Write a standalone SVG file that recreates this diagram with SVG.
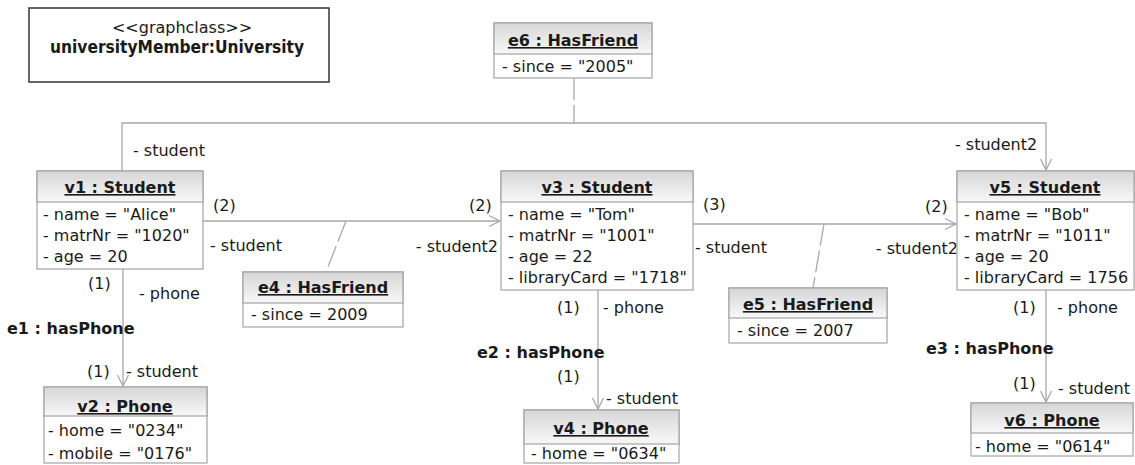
<svg xmlns="http://www.w3.org/2000/svg" width="1135" height="465" viewBox="0 0 1135 465">
<defs>
<linearGradient id="hdr" x1="0" y1="0" x2="0" y2="1">
<stop offset="0" stop-color="#d6d6d6"/>
<stop offset="1" stop-color="#f8f8f8"/>
</linearGradient>
<marker id="arr" markerUnits="userSpaceOnUse" markerWidth="14" markerHeight="14" viewBox="0 0 14 14" refX="12" refY="7" orient="auto">
<path d="M1,1.5 L12,7 L1,12.5" fill="none" stroke="#a8a8a8" stroke-width="1.3"/>
</marker>
<style>
text{font-family:"DejaVu Sans","Liberation Sans",sans-serif;font-size:16px;fill:#1a1a1a}
.b{font-weight:bold}
.t{font-weight:bold;text-decoration:underline;text-anchor:middle}
.m{text-anchor:middle}
.e{text-anchor:end}
.box{fill:#fff;stroke:#a4a4a4;stroke-width:1.2}
.hd{fill:url(#hdr);stroke:#a4a4a4;stroke-width:1.2}
.ln{fill:none;stroke:#a8a8a8;stroke-width:1.3}
.ds{fill:none;stroke:#a8a8a8;stroke-width:1.3;stroke-dasharray:22,5}
</style>
</defs>
<rect width="1135" height="465" fill="#fff"/>

<g id="graphclass">
<rect x="29" y="8" width="300" height="74" fill="#fff" stroke="#333" stroke-width="1.5"/>
<text x="182" y="33" class="m">&lt;&lt;graphclass&gt;&gt;</text>
<text x="177" y="53" class="m b" style="font-size:17px" textLength="254" lengthAdjust="spacingAndGlyphs">universityMember:University</text>
</g>

<g id="connectors">
<path class="ln" d="M122,171 V123 H1046 V170" marker-end="url(#arr)"/>
<path class="ln" d="M203,221 H500" marker-end="url(#arr)"/>
<path class="ln" d="M693,224 H956" marker-end="url(#arr)"/>
<path class="ln" d="M123,269 V386" marker-end="url(#arr)"/>
<path class="ln" d="M598,290 V409" marker-end="url(#arr)"/>
<path class="ln" d="M1046,290 V402" marker-end="url(#arr)"/>
<path class="ds" d="M574,78 V123"/>
<path class="ds" d="M346,221 L326,272"/>
<path class="ds" d="M824,224 L813,288"/>
<text x="133" y="156">- student</text>
<text x="955" y="150">- student2</text>
<text x="213" y="211">(2)</text>
<text x="210" y="251">- student</text>
<text x="469" y="211">(2)</text>
<text x="498" y="252" class="e">- student2</text>
<text x="703" y="210">(3)</text>
<text x="695" y="253">- student</text>
<text x="925" y="212">(2)</text>
<text x="958" y="254" class="e">- student2</text>
<text x="88" y="289">(1)</text>
<text x="139" y="299">- phone</text>
<text x="7" y="334" class="b">e1 : hasPhone</text>
<text x="87" y="377">(1)</text>
<text x="126" y="377">- student</text>
<text x="557" y="313">(1)</text>
<text x="603" y="313">- phone</text>
<text x="477" y="358" class="b">e2 : hasPhone</text>
<text x="557" y="382">(1)</text>
<text x="606" y="404">- student</text>
<text x="1013" y="313">(1)</text>
<text x="1057" y="313">- phone</text>
<text x="926" y="354" class="b">e3 : hasPhone</text>
<text x="1013" y="389">(1)</text>
<text x="1058" y="394">- student</text>
</g>

<g id="e6">
<rect class="box" x="494" y="23" width="158" height="55"/>
<rect class="hd" x="494" y="23" width="158" height="31"/>
<text x="573" y="46" class="t">e6 : HasFriend</text>
<text x="502" y="72">- since = "2005"</text>
</g>

<g id="v1">
<rect class="box" x="37" y="171" width="166" height="98"/>
<rect class="hd" x="37" y="171" width="166" height="31"/>
<text x="120" y="193" class="t">v1 : Student</text>
<text x="43" y="220">- name = "Alice"</text>
<text x="43" y="241">- matrNr = "1020"</text>
<text x="43" y="262">- age = 20</text>
</g>

<g id="v3">
<rect class="box" x="501" y="171" width="192" height="119"/>
<rect class="hd" x="501" y="171" width="192" height="31"/>
<text x="597" y="193" class="t">v3 : Student</text>
<text x="508" y="220">- name = "Tom"</text>
<text x="508" y="241">- matrNr = "1001"</text>
<text x="508" y="262">- age = 22</text>
<text x="508" y="283">- libraryCard = "1718"</text>
</g>

<g id="v5">
<rect class="box" x="957" y="171" width="177" height="119"/>
<rect class="hd" x="957" y="171" width="177" height="31"/>
<text x="1045" y="193" class="t">v5 : Student</text>
<text x="964" y="220">- name = "Bob"</text>
<text x="964" y="241">- matrNr = "1011"</text>
<text x="964" y="262">- age = 20</text>
<text x="964" y="283">- libraryCard = 1756</text>
</g>

<g id="e4">
<rect class="box" x="243" y="272" width="160" height="55"/>
<rect class="hd" x="243" y="272" width="160" height="31"/>
<text x="323" y="293" class="t">e4 : HasFriend</text>
<text x="251" y="320">- since = 2009</text>
</g>

<g id="e5">
<rect class="box" x="729" y="288" width="158" height="55"/>
<rect class="hd" x="729" y="288" width="158" height="30"/>
<text x="808" y="310" class="t">e5 : HasFriend</text>
<text x="737" y="336">- since = 2007</text>
</g>

<g id="v2">
<rect class="box" x="44" y="387" width="163" height="76"/>
<rect class="hd" x="44" y="387" width="163" height="29"/>
<text x="125" y="412" class="t">v2 : Phone</text>
<text x="48" y="436">- home = "0234"</text>
<text x="48" y="459">- mobile = "0176"</text>
</g>

<g id="v4">
<rect class="box" x="524" y="410" width="155" height="53"/>
<rect class="hd" x="524" y="410" width="155" height="34"/>
<text x="601" y="434" class="t">v4 : Phone</text>
<text x="531" y="459">- home = "0634"</text>
</g>

<g id="v6">
<rect class="box" x="971" y="403" width="162" height="53"/>
<rect class="hd" x="971" y="403" width="162" height="30"/>
<text x="1052" y="426" class="t">v6 : Phone</text>
<text x="975" y="452">- home = "0614"</text>
</g>
</svg>
